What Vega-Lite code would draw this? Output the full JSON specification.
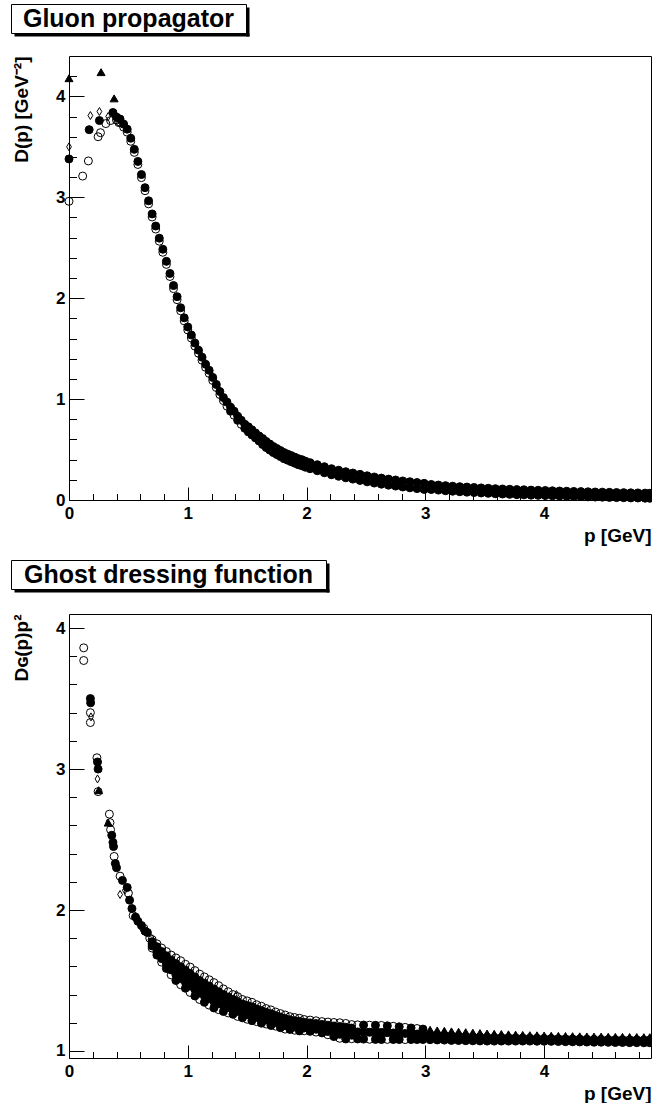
{
"$schema": "https://vega.github.io/schema/vega-lite/v6.json",
"padding": {"left": 10, "top": 3, "right": 0, "bottom": 0},
"background": "white",
"config": {
  "view": {"stroke": null},
  "font": "Liberation Sans",
  "axis": {"domainColor": "black", "domainWidth": 1, "tickColor": "black", "tickWidth": 1, "labelColor": "black", "labelFont": "Liberation Sans", "labelFontSize": 17, "labelFontWeight": "bold", "titleColor": "black", "titleFont": "Liberation Sans", "titleFontSize": 19, "titleFontWeight": "bold", "grid": false, "labelOverlap": false, "labelFlush": false}
},
"columns": 1, "spacing": 14,
"concat": [
 {"columns": 1, "spacing": 21, "concat": [
  {"width": 235, "height": 29, "view": {"stroke": "black", "strokeWidth": 1},
   "layer": [
    {"data": {"values": []}, "mark": {"type": "point", "opacity": 0},
     "encoding": {
      "x": {"field": "a", "type": "quantitative", "scale": {"domain": [0, 1], "range": [3, 238]}, "axis": {"orient": "bottom", "domainWidth": 3, "offset": 1.5, "ticks": false, "labels": false, "title": null}},
      "y": {"field": "b", "type": "quantitative", "scale": {"domain": [0, 1], "range": [32, 3]}, "axis": {"orient": "right", "domainWidth": 3, "offset": 1.5, "ticks": false, "labels": false, "title": null}}
     }},
    {"data": {"values": [{"t": "Gluon propagator"}]},
     "mark": {"type": "text", "font": "Liberation Sans", "fontSize": 25, "fontWeight": "bold", "color": "black"},
     "encoding": {"text": {"field": "t", "type": "nominal"}}}
   ]},
  {"width": 640, "height": 444,
   "resolve": {"axis": {"x": "independent", "y": "independent"}},
   "layer": [
    {"data": {"name": "g"},
     "mark": {"type": "point", "filled": true, "opacity": 1, "stroke": "black", "strokeWidth": 1},
     "encoding": {
      "x": {"field": "p", "type": "quantitative", "scale": {"domain": [0, 4.9], "range": [58, 640], "nice": false, "zero": false},
        "axis": {"orient": "bottom", "title": "p [GeV]", "values": [0,1,2,3,4], "format": "d", "tickSize": -13, "labelPadding": 18.5, "titleX": 640, "titleY": 41, "titleAlign": "right", "titleBaseline": "alphabetic", "titleAnchor": "end"}},
      "y": {"field": "y", "type": "quantitative", "scale": {"domain": [0, 4.4], "nice": false, "zero": false},
        "axis": {"orient": "left", "offset": -58, "title": "D(p) [GeV⁻²]", "values": [0,1,2,3,4], "format": "d", "tickSize": -15, "labelPadding": 19, "titleX": -42, "titleY": 0, "titleAngle": -90, "titleAlign": "right", "titleBaseline": "alphabetic"}},
      "shape": {"field": "s", "type": "nominal", "scale": {"domain": ["fc","oc","od","ft"], "range": ["circle","circle","M0,-1L0.6,0L0,1L-0.6,0Z","triangle-up"]}, "legend": null},
      "fill": {"field": "s", "type": "nominal", "scale": {"domain": ["fc","oc","od","ft"], "range": ["black","transparent","transparent","black"]}, "legend": null},
      "size": {"field": "s", "type": "ordinal", "scale": {"domain": ["fc","oc","od","ft"], "range": [64,64,100,100]}, "legend": null}
     }},
    {"data": {"values": []}, "mark": {"type": "point", "opacity": 0},
     "encoding": {
      "x": {"field": "p", "type": "quantitative", "scale": {"domain": [0, 4.9], "range": [58, 640], "nice": false, "zero": false},
        "axis": {"orient": "bottom", "values": [0.2,0.4,0.6,0.8,1.2,1.4,1.6,1.8,2.2,2.4,2.6,2.8,3.2,3.4,3.6,3.8,4.2,4.4,4.6,4.8], "tickSize": -6.5, "labels": false, "domain": false, "title": null}},
      "y": {"field": "y", "type": "quantitative", "scale": {"domain": [0, 4.4], "nice": false, "zero": false},
        "axis": {"orient": "left", "offset": -58, "values": [0.2,0.4,0.6,0.8,1.2,1.4,1.6,1.8,2.2,2.4,2.6,2.8,3.2,3.4,3.6,3.8,4.2], "tickSize": -7.5, "labels": false, "domain": false, "title": null}}
     }},
    {"data": {"values": []}, "mark": {"type": "point", "opacity": 0},
     "encoding": {
      "x": {"field": "p", "type": "quantitative", "scale": {"domain": [0, 4.9], "range": [58, 640], "nice": false, "zero": false},
        "axis": {"orient": "top", "ticks": false, "labels": false, "domain": true, "title": null}},
      "y": {"field": "y", "type": "quantitative", "scale": {"domain": [0, 4.4], "nice": false, "zero": false},
        "axis": {"orient": "right", "ticks": false, "labels": false, "domain": true, "title": null}}
     }}
   ]}
 ]},
 {"columns": 1, "spacing": 23, "concat": [
  {"width": 315, "height": 29, "view": {"stroke": "black", "strokeWidth": 1},
   "layer": [
    {"data": {"values": []}, "mark": {"type": "point", "opacity": 0},
     "encoding": {
      "x": {"field": "a", "type": "quantitative", "scale": {"domain": [0, 1], "range": [3, 318]}, "axis": {"orient": "bottom", "domainWidth": 3, "offset": 1.5, "ticks": false, "labels": false, "title": null}},
      "y": {"field": "b", "type": "quantitative", "scale": {"domain": [0, 1], "range": [32, 3]}, "axis": {"orient": "right", "domainWidth": 3, "offset": 1.5, "ticks": false, "labels": false, "title": null}}
     }},
    {"data": {"values": [{"t": "Ghost dressing function"}]},
     "mark": {"type": "text", "font": "Liberation Sans", "fontSize": 25, "fontWeight": "bold", "color": "black"},
     "encoding": {"text": {"field": "t", "type": "nominal"}}}
   ]},
  {"width": 640, "height": 444,
   "resolve": {"axis": {"x": "independent", "y": "independent"}},
   "layer": [
    {"data": {"name": "h"},
     "mark": {"type": "point", "filled": true, "opacity": 1, "stroke": "black", "strokeWidth": 1},
     "encoding": {
      "x": {"field": "p", "type": "quantitative", "scale": {"domain": [0, 4.9], "range": [58, 640], "nice": false, "zero": false},
        "axis": {"orient": "bottom", "title": "p [GeV]", "values": [0,1,2,3,4], "format": "d", "tickSize": -13, "labelPadding": 18.5, "titleX": 640, "titleY": 41, "titleAlign": "right", "titleBaseline": "alphabetic", "titleAnchor": "end"}},
      "y": {"field": "y", "type": "quantitative", "scale": {"domain": [0.95, 4.1], "nice": false, "zero": false},
        "axis": {"orient": "left", "offset": -58, "title": "Dɢ(p)p²", "values": [1,2,3,4], "format": "d", "tickSize": -15, "labelPadding": 19, "titleX": -42, "titleY": 0, "titleAngle": -90, "titleAlign": "right", "titleBaseline": "alphabetic"}},
      "shape": {"field": "s", "type": "nominal", "scale": {"domain": ["fc","oc","od","ft"], "range": ["circle","circle","M0,-1L0.6,0L0,1L-0.6,0Z","triangle-up"]}, "legend": null},
      "fill": {"field": "s", "type": "nominal", "scale": {"domain": ["fc","oc","od","ft"], "range": ["black","transparent","transparent","black"]}, "legend": null},
      "size": {"field": "s", "type": "ordinal", "scale": {"domain": ["fc","oc","od","ft"], "range": [85,85,110,100]}, "legend": null}
     }},
    {"data": {"values": []}, "mark": {"type": "point", "opacity": 0},
     "encoding": {
      "x": {"field": "p", "type": "quantitative", "scale": {"domain": [0, 4.9], "range": [58, 640], "nice": false, "zero": false},
        "axis": {"orient": "bottom", "values": [0.2,0.4,0.6,0.8,1.2,1.4,1.6,1.8,2.2,2.4,2.6,2.8,3.2,3.4,3.6,3.8,4.2,4.4,4.6,4.8], "tickSize": -6.5, "labels": false, "domain": false, "title": null}},
      "y": {"field": "y", "type": "quantitative", "scale": {"domain": [0.95, 4.1], "nice": false, "zero": false},
        "axis": {"orient": "left", "offset": -58, "values": [1.2,1.4,1.6,1.8,2.2,2.4,2.6,2.8,3.2,3.4,3.6,3.8], "tickSize": -7.5, "labels": false, "domain": false, "title": null}}
     }},
    {"data": {"values": []}, "mark": {"type": "point", "opacity": 0},
     "encoding": {
      "x": {"field": "p", "type": "quantitative", "scale": {"domain": [0, 4.9], "range": [58, 640], "nice": false, "zero": false},
        "axis": {"orient": "top", "ticks": false, "labels": false, "domain": true, "title": null}},
      "y": {"field": "y", "type": "quantitative", "scale": {"domain": [0.95, 4.1], "nice": false, "zero": false},
        "axis": {"orient": "right", "ticks": false, "labels": false, "domain": true, "title": null}}
     }}
   ]}
 ]}
],
"datasets": {
"g": [
{"p":0,"y":4.18,"s":"ft"},{"p":0.27,"y":4.24,"s":"ft"},{"p":0.38,"y":3.98,"s":"ft"},
{"p":0,"y":3.5,"s":"od"},{"p":0.18,"y":3.81,"s":"od"},{"p":0.256,"y":3.85,"s":"od"},{"p":0.33,"y":3.8,"s":"od"},
{"p":0,"y":3.38,"s":"fc"},{"p":0.17,"y":3.67,"s":"fc"},{"p":0.256,"y":3.76,"s":"fc"},{"p":0.37,"y":3.84,"s":"fc"},
{"p":0,"y":2.96,"s":"oc"},{"p":0.115,"y":3.21,"s":"oc"},{"p":0.163,"y":3.36,"s":"oc"},{"p":0.245,"y":3.6,"s":"oc"},{"p":0.265,"y":3.64,"s":"oc"},{"p":0.31,"y":3.73,"s":"oc"},{"p":0.35,"y":3.76,"s":"oc"},{"p":0.42,"y":3.74,"s":"oc"},
{"p":0.40,"y":3.795,"s":"fc"},{"p":0.40,"y":3.765,"s":"oc"},
{"p":0.43,"y":3.775,"s":"fc"},{"p":0.43,"y":3.745,"s":"oc"},
{"p":0.46,"y":3.725,"s":"fc"},{"p":0.46,"y":3.695,"s":"oc"},
{"p":0.49,"y":3.675,"s":"fc"},{"p":0.49,"y":3.645,"s":"oc"},
{"p":0.52,"y":3.585,"s":"fc"},{"p":0.52,"y":3.555,"s":"oc"},
{"p":0.55,"y":3.475,"s":"fc"},{"p":0.55,"y":3.445,"s":"oc"},
{"p":0.58,"y":3.355,"s":"fc"},{"p":0.58,"y":3.325,"s":"oc"},
{"p":0.61,"y":3.225,"s":"fc"},{"p":0.61,"y":3.195,"s":"oc"},
{"p":0.64,"y":3.095,"s":"fc"},{"p":0.64,"y":3.065,"s":"oc"},
{"p":0.67,"y":2.965,"s":"fc"},{"p":0.67,"y":2.935,"s":"oc"},
{"p":0.70,"y":2.835,"s":"fc"},{"p":0.70,"y":2.805,"s":"oc"},
{"p":0.73,"y":2.715,"s":"fc"},{"p":0.73,"y":2.685,"s":"oc"},
{"p":0.76,"y":2.595,"s":"fc"},{"p":0.76,"y":2.565,"s":"oc"},
{"p":0.79,"y":2.485,"s":"fc"},{"p":0.79,"y":2.455,"s":"oc"},
{"p":0.82,"y":2.365,"s":"fc"},{"p":0.82,"y":2.335,"s":"oc"},
{"p":0.85,"y":2.245,"s":"fc"},{"p":0.85,"y":2.215,"s":"oc"},
{"p":0.88,"y":2.125,"s":"fc"},{"p":0.88,"y":2.095,"s":"oc"},
{"p":0.91,"y":2.015,"s":"fc"},{"p":0.91,"y":1.985,"s":"oc"},
{"p":0.94,"y":1.905,"s":"fc"},{"p":0.94,"y":1.875,"s":"oc"},
{"p":0.97,"y":1.805,"s":"fc"},{"p":0.97,"y":1.775,"s":"oc"},
{"p":1.00,"y":1.715,"s":"fc"},{"p":1.00,"y":1.685,"s":"oc"},
{"p":1.03,"y":1.635,"s":"fc"},{"p":1.03,"y":1.605,"s":"oc"},
{"p":1.06,"y":1.555,"s":"fc"},{"p":1.06,"y":1.525,"s":"oc"},
{"p":1.09,"y":1.485,"s":"fc"},{"p":1.09,"y":1.455,"s":"oc"},
{"p":1.12,"y":1.415,"s":"fc"},{"p":1.12,"y":1.385,"s":"oc"},
{"p":1.15,"y":1.345,"s":"fc"},{"p":1.15,"y":1.315,"s":"oc"},
{"p":1.18,"y":1.285,"s":"fc"},{"p":1.18,"y":1.255,"s":"oc"},
{"p":1.21,"y":1.215,"s":"fc"},{"p":1.21,"y":1.185,"s":"oc"},
{"p":1.24,"y":1.145,"s":"fc"},{"p":1.24,"y":1.115,"s":"oc"},
{"p":1.27,"y":1.075,"s":"fc"},{"p":1.27,"y":1.045,"s":"oc"},
{"p":1.30,"y":1.015,"s":"fc"},{"p":1.30,"y":0.985,"s":"oc"},
{"p":1.33,"y":0.97,"s":"fc"},{"p":1.33,"y":0.93,"s":"oc"},
{"p":1.36,"y":0.92,"s":"fc"},{"p":1.36,"y":0.88,"s":"fc"},
{"p":1.39,"y":0.88,"s":"fc"},{"p":1.39,"y":0.84,"s":"oc"},
{"p":1.42,"y":0.83,"s":"fc"},{"p":1.42,"y":0.79,"s":"fc"},
{"p":1.45,"y":0.79,"s":"fc"},{"p":1.45,"y":0.75,"s":"oc"},
{"p":1.48,"y":0.75,"s":"fc"},{"p":1.48,"y":0.71,"s":"fc"},
{"p":1.51,"y":0.725,"s":"fc"},{"p":1.51,"y":0.675,"s":"fc"},
{"p":1.54,"y":0.695,"s":"fc"},{"p":1.54,"y":0.645,"s":"fc"},
{"p":1.57,"y":0.665,"s":"fc"},{"p":1.57,"y":0.615,"s":"fc"},
{"p":1.60,"y":0.635,"s":"fc"},{"p":1.60,"y":0.585,"s":"fc"},
{"p":1.63,"y":0.61,"s":"fc"},{"p":1.63,"y":0.55,"s":"fc"},
{"p":1.66,"y":0.58,"s":"fc"},{"p":1.66,"y":0.52,"s":"fc"},
{"p":1.69,"y":0.555,"s":"fc"},{"p":1.69,"y":0.495,"s":"fc"},
{"p":1.72,"y":0.53,"s":"fc"},{"p":1.72,"y":0.47,"s":"fc"},
{"p":1.75,"y":0.51,"s":"fc"},{"p":1.75,"y":0.45,"s":"fc"},
{"p":1.78,"y":0.49,"s":"fc"},{"p":1.78,"y":0.43,"s":"fc"},
{"p":1.81,"y":0.47,"s":"fc"},{"p":1.81,"y":0.41,"s":"fc"},
{"p":1.84,"y":0.455,"s":"fc"},{"p":1.84,"y":0.395,"s":"fc"},
{"p":1.87,"y":0.44,"s":"fc"},{"p":1.87,"y":0.38,"s":"fc"},
{"p":1.90,"y":0.425,"s":"fc"},{"p":1.90,"y":0.365,"s":"fc"},
{"p":1.93,"y":0.41,"s":"fc"},{"p":1.93,"y":0.35,"s":"fc"},
{"p":1.96,"y":0.40,"s":"fc"},{"p":1.96,"y":0.34,"s":"fc"},
{"p":1.99,"y":0.385,"s":"fc"},{"p":1.99,"y":0.325,"s":"fc"},
{"p":2.03,"y":0.37,"s":"fc"},{"p":2.03,"y":0.31,"s":"fc"},
{"p":2.09,"y":0.35,"s":"fc"},{"p":2.09,"y":0.29,"s":"fc"},
{"p":2.15,"y":0.33,"s":"fc"},{"p":2.15,"y":0.27,"s":"fc"},
{"p":2.21,"y":0.31,"s":"fc"},{"p":2.21,"y":0.25,"s":"fc"},
{"p":2.27,"y":0.295,"s":"fc"},{"p":2.27,"y":0.235,"s":"fc"},
{"p":2.33,"y":0.28,"s":"fc"},{"p":2.33,"y":0.22,"s":"fc"},
{"p":2.39,"y":0.267,"s":"fc"},{"p":2.39,"y":0.207,"s":"fc"},
{"p":2.45,"y":0.254,"s":"fc"},{"p":2.45,"y":0.194,"s":"fc"},
{"p":2.51,"y":0.24,"s":"fc"},{"p":2.51,"y":0.18,"s":"fc"},
{"p":2.57,"y":0.228,"s":"fc"},{"p":2.57,"y":0.168,"s":"fc"},
{"p":2.63,"y":0.217,"s":"fc"},{"p":2.63,"y":0.157,"s":"fc"},
{"p":2.69,"y":0.207,"s":"fc"},{"p":2.69,"y":0.147,"s":"fc"},
{"p":2.75,"y":0.198,"s":"fc"},{"p":2.75,"y":0.138,"s":"fc"},
{"p":2.81,"y":0.189,"s":"fc"},{"p":2.81,"y":0.129,"s":"fc"},
{"p":2.87,"y":0.181,"s":"fc"},{"p":2.87,"y":0.121,"s":"fc"},
{"p":2.93,"y":0.173,"s":"fc"},{"p":2.93,"y":0.113,"s":"fc"},
{"p":2.99,"y":0.165,"s":"fc"},{"p":2.99,"y":0.105,"s":"fc"},
{"p":3.05,"y":0.154,"s":"fc"},{"p":3.05,"y":0.104,"s":"fc"},
{"p":3.11,"y":0.148,"s":"fc"},{"p":3.11,"y":0.098,"s":"fc"},
{"p":3.17,"y":0.142,"s":"fc"},{"p":3.17,"y":0.092,"s":"fc"},
{"p":3.23,"y":0.137,"s":"fc"},{"p":3.23,"y":0.087,"s":"fc"},
{"p":3.29,"y":0.132,"s":"fc"},{"p":3.29,"y":0.082,"s":"fc"},
{"p":3.35,"y":0.128,"s":"fc"},{"p":3.35,"y":0.078,"s":"fc"},
{"p":3.41,"y":0.124,"s":"fc"},{"p":3.41,"y":0.074,"s":"fc"},
{"p":3.47,"y":0.12,"s":"fc"},{"p":3.47,"y":0.07,"s":"fc"},
{"p":3.53,"y":0.116,"s":"fc"},{"p":3.53,"y":0.066,"s":"fc"},
{"p":3.59,"y":0.112,"s":"fc"},{"p":3.59,"y":0.062,"s":"fc"},
{"p":3.65,"y":0.109,"s":"fc"},{"p":3.65,"y":0.059,"s":"fc"},
{"p":3.71,"y":0.106,"s":"fc"},{"p":3.71,"y":0.056,"s":"fc"},
{"p":3.77,"y":0.103,"s":"fc"},{"p":3.77,"y":0.053,"s":"fc"},
{"p":3.83,"y":0.101,"s":"fc"},{"p":3.83,"y":0.051,"s":"fc"},
{"p":3.89,"y":0.098,"s":"fc"},{"p":3.89,"y":0.048,"s":"fc"},
{"p":3.95,"y":0.096,"s":"fc"},{"p":3.95,"y":0.046,"s":"fc"},
{"p":4.01,"y":0.094,"s":"fc"},{"p":4.01,"y":0.044,"s":"fc"},
{"p":4.07,"y":0.091,"s":"fc"},{"p":4.07,"y":0.041,"s":"fc"},
{"p":4.13,"y":0.089,"s":"fc"},{"p":4.13,"y":0.039,"s":"fc"},
{"p":4.19,"y":0.087,"s":"fc"},{"p":4.19,"y":0.037,"s":"fc"},
{"p":4.25,"y":0.085,"s":"fc"},{"p":4.25,"y":0.035,"s":"fc"},
{"p":4.31,"y":0.083,"s":"fc"},{"p":4.31,"y":0.033,"s":"fc"},
{"p":4.37,"y":0.081,"s":"fc"},{"p":4.37,"y":0.031,"s":"fc"},
{"p":4.43,"y":0.079,"s":"fc"},{"p":4.43,"y":0.029,"s":"fc"},
{"p":4.49,"y":0.078,"s":"fc"},{"p":4.49,"y":0.028,"s":"fc"},
{"p":4.55,"y":0.076,"s":"fc"},{"p":4.55,"y":0.026,"s":"fc"},
{"p":4.61,"y":0.074,"s":"fc"},{"p":4.61,"y":0.024,"s":"fc"},
{"p":4.67,"y":0.073,"s":"fc"},{"p":4.67,"y":0.023,"s":"fc"},
{"p":4.73,"y":0.071,"s":"fc"},{"p":4.73,"y":0.021,"s":"fc"},
{"p":4.79,"y":0.07,"s":"fc"},{"p":4.79,"y":0.02,"s":"fc"},
{"p":4.85,"y":0.068,"s":"fc"},{"p":4.85,"y":0.018,"s":"fc"},
{"p":4.89,"y":0.067,"s":"fc"},{"p":4.89,"y":0.017,"s":"fc"}
],
"h": [
{"p":0.124,"y":3.86,"s":"oc"},{"p":0.124,"y":3.77,"s":"oc"},{"p":0.18,"y":3.5,"s":"fc"},{"p":0.182,"y":3.47,"s":"fc"},{"p":0.18,"y":3.4,"s":"oc"},{"p":0.18,"y":3.33,"s":"oc"},{"p":0.185,"y":3.37,"s":"od"},
{"p":0.235,"y":3.08,"s":"oc"},{"p":0.24,"y":3.05,"s":"fc"},{"p":0.245,"y":3.0,"s":"fc"},{"p":0.24,"y":2.93,"s":"od"},{"p":0.25,"y":2.85,"s":"ft"},{"p":0.245,"y":2.84,"s":"oc"},
{"p":0.33,"y":2.62,"s":"ft"},{"p":0.34,"y":2.68,"s":"oc"},{"p":0.345,"y":2.62,"s":"oc"},{"p":0.35,"y":2.57,"s":"oc"},{"p":0.36,"y":2.53,"s":"fc"},{"p":0.37,"y":2.48,"s":"fc"},{"p":0.375,"y":2.45,"s":"fc"},{"p":0.38,"y":2.38,"s":"oc"},{"p":0.39,"y":2.33,"s":"fc"},{"p":0.40,"y":2.30,"s":"fc"},
{"p":0.43,"y":2.24,"s":"oc"},{"p":0.45,"y":2.21,"s":"fc"},{"p":0.43,"y":2.11,"s":"od"},{"p":0.47,"y":2.14,"s":"od"},{"p":0.49,"y":2.16,"s":"fc"},{"p":0.50,"y":2.12,"s":"oc"},{"p":0.51,"y":2.07,"s":"fc"},{"p":0.53,"y":2.01,"s":"fc"},{"p":0.54,"y":1.96,"s":"oc"},{"p":0.56,"y":1.95,"s":"fc"},{"p":0.58,"y":1.92,"s":"fc"},{"p":0.61,"y":1.89,"s":"fc"},{"p":0.63,"y":1.87,"s":"oc"},{"p":0.64,"y":1.85,"s":"fc"},{"p":0.66,"y":1.84,"s":"fc"},{"p":0.68,"y":1.80,"s":"oc"},
{"p":0.70,"y":1.79,"s":"oc"},{"p":0.70,"y":1.775,"s":"fc"},{"p":0.70,"y":1.76,"s":"fc"},{"p":0.70,"y":1.745,"s":"fc"},{"p":0.70,"y":1.73,"s":"oc"},
{"p":0.74,"y":1.76,"s":"oc"},{"p":0.74,"y":1.74,"s":"fc"},{"p":0.74,"y":1.72,"s":"fc"},{"p":0.74,"y":1.70,"s":"fc"},{"p":0.74,"y":1.68,"s":"fc"},
{"p":0.78,"y":1.73,"s":"oc"},{"p":0.78,"y":1.705,"s":"fc"},{"p":0.78,"y":1.68,"s":"fc"},{"p":0.78,"y":1.655,"s":"fc"},{"p":0.78,"y":1.63,"s":"oc"},
{"p":0.82,"y":1.705,"s":"oc"},{"p":0.82,"y":1.675,"s":"fc"},{"p":0.82,"y":1.645,"s":"fc"},{"p":0.82,"y":1.615,"s":"fc"},{"p":0.82,"y":1.585,"s":"fc"},
{"p":0.86,"y":1.68,"s":"oc"},{"p":0.86,"y":1.645,"s":"fc"},{"p":0.86,"y":1.61,"s":"fc"},{"p":0.86,"y":1.575,"s":"fc"},{"p":0.86,"y":1.54,"s":"oc"},
{"p":0.90,"y":1.66,"s":"oc"},{"p":0.90,"y":1.62,"s":"fc"},{"p":0.90,"y":1.58,"s":"fc"},{"p":0.90,"y":1.54,"s":"fc"},{"p":0.90,"y":1.50,"s":"fc"},
{"p":0.94,"y":1.64,"s":"oc"},{"p":0.94,"y":1.598,"s":"fc"},{"p":0.94,"y":1.555,"s":"fc"},{"p":0.94,"y":1.513,"s":"fc"},{"p":0.94,"y":1.47,"s":"oc"},
{"p":0.98,"y":1.615,"s":"oc"},{"p":0.98,"y":1.573,"s":"fc"},{"p":0.98,"y":1.53,"s":"fc"},{"p":0.98,"y":1.488,"s":"fc"},{"p":0.98,"y":1.445,"s":"fc"},
{"p":1.02,"y":1.595,"s":"oc"},{"p":1.02,"y":1.55,"s":"fc"},{"p":1.02,"y":1.505,"s":"fc"},{"p":1.02,"y":1.46,"s":"fc"},{"p":1.02,"y":1.415,"s":"oc"},
{"p":1.06,"y":1.57,"s":"oc"},{"p":1.06,"y":1.525,"s":"fc"},{"p":1.06,"y":1.48,"s":"fc"},{"p":1.06,"y":1.435,"s":"fc"},{"p":1.06,"y":1.39,"s":"fc"},
{"p":1.10,"y":1.545,"s":"oc"},{"p":1.10,"y":1.50,"s":"fc"},{"p":1.10,"y":1.455,"s":"fc"},{"p":1.10,"y":1.41,"s":"fc"},{"p":1.10,"y":1.365,"s":"oc"},
{"p":1.14,"y":1.525,"s":"oc"},{"p":1.14,"y":1.48,"s":"fc"},{"p":1.14,"y":1.435,"s":"fc"},{"p":1.14,"y":1.39,"s":"fc"},{"p":1.14,"y":1.345,"s":"fc"},
{"p":1.18,"y":1.505,"s":"oc"},{"p":1.18,"y":1.46,"s":"fc"},{"p":1.18,"y":1.415,"s":"fc"},{"p":1.18,"y":1.37,"s":"fc"},{"p":1.18,"y":1.325,"s":"oc"},
{"p":1.22,"y":1.485,"s":"oc"},{"p":1.22,"y":1.44,"s":"fc"},{"p":1.22,"y":1.395,"s":"fc"},{"p":1.22,"y":1.35,"s":"fc"},{"p":1.22,"y":1.305,"s":"fc"},
{"p":1.26,"y":1.463,"s":"oc"},{"p":1.26,"y":1.42,"s":"fc"},{"p":1.26,"y":1.378,"s":"fc"},{"p":1.26,"y":1.335,"s":"fc"},{"p":1.26,"y":1.293,"s":"oc"},
{"p":1.30,"y":1.44,"s":"oc"},{"p":1.30,"y":1.40,"s":"fc"},{"p":1.30,"y":1.36,"s":"fc"},{"p":1.30,"y":1.32,"s":"fc"},{"p":1.30,"y":1.28,"s":"fc"},
{"p":1.34,"y":1.42,"s":"oc"},{"p":1.34,"y":1.383,"s":"fc"},{"p":1.34,"y":1.345,"s":"fc"},{"p":1.34,"y":1.308,"s":"fc"},{"p":1.34,"y":1.27,"s":"oc"},
{"p":1.38,"y":1.40,"s":"oc"},{"p":1.38,"y":1.365,"s":"fc"},{"p":1.38,"y":1.33,"s":"fc"},{"p":1.38,"y":1.295,"s":"fc"},{"p":1.38,"y":1.26,"s":"fc"},
{"p":1.41,"y":1.40,"s":"od"},
{"p":1.42,"y":1.385,"s":"oc"},{"p":1.42,"y":1.35,"s":"fc"},{"p":1.42,"y":1.315,"s":"fc"},{"p":1.42,"y":1.28,"s":"fc"},{"p":1.42,"y":1.245,"s":"oc"},
{"p":1.46,"y":1.365,"s":"oc"},{"p":1.46,"y":1.333,"s":"fc"},{"p":1.46,"y":1.30,"s":"fc"},{"p":1.46,"y":1.268,"s":"fc"},{"p":1.46,"y":1.235,"s":"fc"},
{"p":1.50,"y":1.355,"s":"oc"},{"p":1.50,"y":1.323,"s":"fc"},{"p":1.50,"y":1.29,"s":"fc"},{"p":1.50,"y":1.258,"s":"fc"},{"p":1.50,"y":1.225,"s":"oc"},
{"p":1.54,"y":1.345,"s":"oc"},{"p":1.54,"y":1.313,"s":"fc"},{"p":1.54,"y":1.28,"s":"fc"},{"p":1.54,"y":1.248,"s":"fc"},{"p":1.54,"y":1.215,"s":"fc"},
{"p":1.58,"y":1.328,"s":"oc"},{"p":1.58,"y":1.298,"s":"fc"},{"p":1.58,"y":1.268,"s":"fc"},{"p":1.58,"y":1.238,"s":"fc"},{"p":1.58,"y":1.208,"s":"oc"},
{"p":1.62,"y":1.317,"s":"oc"},{"p":1.62,"y":1.287,"s":"fc"},{"p":1.62,"y":1.257,"s":"fc"},{"p":1.62,"y":1.227,"s":"fc"},{"p":1.62,"y":1.197,"s":"fc"},
{"p":1.66,"y":1.301,"s":"oc"},{"p":1.66,"y":1.274,"s":"fc"},{"p":1.66,"y":1.246,"s":"fc"},{"p":1.66,"y":1.219,"s":"fc"},{"p":1.66,"y":1.191,"s":"oc"},
{"p":1.70,"y":1.291,"s":"oc"},{"p":1.70,"y":1.264,"s":"fc"},{"p":1.70,"y":1.236,"s":"fc"},{"p":1.70,"y":1.209,"s":"fc"},{"p":1.70,"y":1.181,"s":"fc"},
{"p":1.74,"y":1.276,"s":"oc"},{"p":1.74,"y":1.251,"s":"fc"},{"p":1.74,"y":1.226,"s":"fc"},{"p":1.74,"y":1.201,"s":"fc"},{"p":1.74,"y":1.176,"s":"oc"},
{"p":1.78,"y":1.265,"s":"oc"},{"p":1.78,"y":1.24,"s":"fc"},{"p":1.78,"y":1.215,"s":"fc"},{"p":1.78,"y":1.19,"s":"fc"},{"p":1.78,"y":1.165,"s":"fc"},
{"p":1.82,"y":1.255,"s":"oc"},{"p":1.82,"y":1.23,"s":"fc"},{"p":1.82,"y":1.205,"s":"fc"},{"p":1.82,"y":1.18,"s":"fc"},{"p":1.82,"y":1.155,"s":"oc"},
{"p":1.86,"y":1.243,"s":"oc"},{"p":1.86,"y":1.221,"s":"fc"},{"p":1.86,"y":1.198,"s":"fc"},{"p":1.86,"y":1.176,"s":"fc"},{"p":1.86,"y":1.153,"s":"fc"},
{"p":1.90,"y":1.237,"s":"oc"},{"p":1.90,"y":1.215,"s":"fc"},{"p":1.90,"y":1.192,"s":"fc"},{"p":1.90,"y":1.17,"s":"fc"},{"p":1.90,"y":1.147,"s":"oc"},
{"p":1.94,"y":1.232,"s":"oc"},{"p":1.94,"y":1.21,"s":"fc"},{"p":1.94,"y":1.187,"s":"fc"},{"p":1.94,"y":1.165,"s":"fc"},{"p":1.94,"y":1.142,"s":"fc"},
{"p":1.98,"y":1.223,"s":"oc"},{"p":1.98,"y":1.203,"s":"fc"},{"p":1.98,"y":1.183,"s":"fc"},{"p":1.98,"y":1.163,"s":"fc"},{"p":1.98,"y":1.143,"s":"oc"},
{"p":2.03,"y":1.219,"s":"oc"},{"p":2.03,"y":1.199,"s":"fc"},{"p":2.03,"y":1.179,"s":"fc"},{"p":2.03,"y":1.159,"s":"fc"},{"p":2.03,"y":1.139,"s":"fc"},
{"p":2.08,"y":1.214,"s":"oc"},{"p":2.08,"y":1.194,"s":"fc"},{"p":2.08,"y":1.174,"s":"fc"},{"p":2.08,"y":1.154,"s":"fc"},{"p":2.08,"y":1.134,"s":"oc"},
{"p":2.13,"y":1.208,"s":"oc"},{"p":2.13,"y":1.188,"s":"fc"},{"p":2.13,"y":1.168,"s":"fc"},{"p":2.13,"y":1.148,"s":"fc"},{"p":2.13,"y":1.128,"s":"fc"},
{"p":2.18,"y":1.205,"s":"oc"},{"p":2.18,"y":1.183,"s":"fc"},{"p":2.18,"y":1.16,"s":"fc"},{"p":2.18,"y":1.138,"s":"fc"},{"p":2.18,"y":1.115,"s":"oc"},
{"p":2.23,"y":1.202,"s":"oc"},{"p":2.23,"y":1.177,"s":"fc"},{"p":2.23,"y":1.152,"s":"fc"},{"p":2.23,"y":1.127,"s":"fc"},{"p":2.23,"y":1.102,"s":"fc"},
{"p":2.28,"y":1.20,"s":"oc"},{"p":2.28,"y":1.173,"s":"fc"},{"p":2.28,"y":1.145,"s":"fc"},{"p":2.28,"y":1.118,"s":"fc"},{"p":2.28,"y":1.09,"s":"oc"},
{"p":2.33,"y":1.195,"s":"oc"},{"p":2.33,"y":1.168,"s":"fc"},{"p":2.33,"y":1.14,"s":"fc"},{"p":2.33,"y":1.113,"s":"fc"},{"p":2.33,"y":1.085,"s":"fc"},
{"p":2.38,"y":1.187,"s":"oc"},{"p":2.38,"y":1.162,"s":"fc"},{"p":2.38,"y":1.137,"s":"fc"},{"p":2.38,"y":1.112,"s":"fc"},{"p":2.38,"y":1.087,"s":"oc"},
{"p":2.43,"y":1.185,"s":"oc"},{"p":2.43,"y":1.135,"s":"fc"},{"p":2.43,"y":1.085,"s":"fc"},
{"p":2.48,"y":1.184,"s":"fc"},{"p":2.48,"y":1.134,"s":"fc"},{"p":2.48,"y":1.084,"s":"fc"},
{"p":2.53,"y":1.183,"s":"oc"},{"p":2.53,"y":1.133,"s":"fc"},{"p":2.53,"y":1.083,"s":"oc"},
{"p":2.58,"y":1.182,"s":"fc"},{"p":2.58,"y":1.132,"s":"fc"},{"p":2.58,"y":1.082,"s":"fc"},
{"p":2.63,"y":1.181,"s":"oc"},{"p":2.63,"y":1.131,"s":"fc"},{"p":2.63,"y":1.081,"s":"fc"},
{"p":2.68,"y":1.178,"s":"fc"},{"p":2.68,"y":1.13,"s":"fc"},{"p":2.68,"y":1.082,"s":"oc"},
{"p":2.73,"y":1.175,"s":"oc"},{"p":2.73,"y":1.128,"s":"fc"},{"p":2.73,"y":1.081,"s":"fc"},
{"p":2.78,"y":1.171,"s":"fc"},{"p":2.78,"y":1.126,"s":"fc"},{"p":2.78,"y":1.081,"s":"fc"},
{"p":2.83,"y":1.167,"s":"oc"},{"p":2.83,"y":1.124,"s":"fc"},{"p":2.83,"y":1.081,"s":"oc"},
{"p":2.88,"y":1.163,"s":"fc"},{"p":2.88,"y":1.122,"s":"fc"},{"p":2.88,"y":1.081,"s":"fc"},
{"p":2.93,"y":1.159,"s":"oc"},{"p":2.93,"y":1.12,"s":"fc"},{"p":2.93,"y":1.081,"s":"fc"},
{"p":2.98,"y":1.155,"s":"fc"},{"p":2.98,"y":1.118,"s":"fc"},{"p":2.98,"y":1.081,"s":"fc"},
{"p":3.04,"y":1.15,"s":"ft"},{"p":3.04,"y":1.115,"s":"fc"},{"p":3.04,"y":1.08,"s":"fc"},
{"p":3.10,"y":1.146,"s":"ft"},{"p":3.10,"y":1.112,"s":"fc"},{"p":3.10,"y":1.078,"s":"fc"},
{"p":3.16,"y":1.143,"s":"ft"},{"p":3.16,"y":1.11,"s":"fc"},{"p":3.16,"y":1.077,"s":"fc"},
{"p":3.22,"y":1.139,"s":"ft"},{"p":3.22,"y":1.107,"s":"fc"},{"p":3.22,"y":1.075,"s":"fc"},
{"p":3.28,"y":1.136,"s":"ft"},{"p":3.28,"y":1.105,"s":"fc"},{"p":3.28,"y":1.074,"s":"fc"},
{"p":3.34,"y":1.133,"s":"ft"},{"p":3.34,"y":1.103,"s":"fc"},{"p":3.34,"y":1.073,"s":"fc"},
{"p":3.40,"y":1.13,"s":"ft"},{"p":3.40,"y":1.101,"s":"fc"},{"p":3.40,"y":1.072,"s":"fc"},
{"p":3.46,"y":1.127,"s":"ft"},{"p":3.46,"y":1.099,"s":"fc"},{"p":3.46,"y":1.071,"s":"fc"},
{"p":3.52,"y":1.124,"s":"ft"},{"p":3.52,"y":1.097,"s":"fc"},{"p":3.52,"y":1.07,"s":"fc"},
{"p":3.58,"y":1.122,"s":"ft"},{"p":3.58,"y":1.096,"s":"fc"},{"p":3.58,"y":1.07,"s":"fc"},
{"p":3.64,"y":1.12,"s":"ft"},{"p":3.64,"y":1.095,"s":"fc"},{"p":3.64,"y":1.07,"s":"fc"},
{"p":3.70,"y":1.118,"s":"ft"},{"p":3.70,"y":1.094,"s":"fc"},{"p":3.70,"y":1.07,"s":"fc"},
{"p":3.76,"y":1.116,"s":"ft"},{"p":3.76,"y":1.093,"s":"fc"},{"p":3.76,"y":1.07,"s":"fc"},
{"p":3.82,"y":1.114,"s":"ft"},{"p":3.82,"y":1.092,"s":"fc"},{"p":3.82,"y":1.07,"s":"fc"},
{"p":3.88,"y":1.112,"s":"ft"},{"p":3.88,"y":1.091,"s":"fc"},{"p":3.88,"y":1.07,"s":"fc"},
{"p":3.94,"y":1.111,"s":"ft"},{"p":3.94,"y":1.09,"s":"fc"},{"p":3.94,"y":1.069,"s":"fc"},
{"p":4.00,"y":1.109,"s":"ft"},{"p":4.00,"y":1.089,"s":"fc"},{"p":4.00,"y":1.069,"s":"fc"},
{"p":4.06,"y":1.108,"s":"ft"},{"p":4.06,"y":1.088,"s":"fc"},{"p":4.06,"y":1.068,"s":"fc"},
{"p":4.12,"y":1.107,"s":"ft"},{"p":4.12,"y":1.087,"s":"fc"},{"p":4.12,"y":1.067,"s":"fc"},
{"p":4.18,"y":1.106,"s":"ft"},{"p":4.18,"y":1.086,"s":"fc"},{"p":4.18,"y":1.066,"s":"fc"},
{"p":4.24,"y":1.105,"s":"ft"},{"p":4.24,"y":1.085,"s":"fc"},{"p":4.24,"y":1.065,"s":"fc"},
{"p":4.30,"y":1.104,"s":"ft"},{"p":4.30,"y":1.084,"s":"fc"},{"p":4.30,"y":1.064,"s":"fc"},
{"p":4.36,"y":1.103,"s":"ft"},{"p":4.36,"y":1.083,"s":"fc"},{"p":4.36,"y":1.063,"s":"fc"},
{"p":4.42,"y":1.102,"s":"ft"},{"p":4.42,"y":1.082,"s":"fc"},{"p":4.42,"y":1.062,"s":"fc"},
{"p":4.48,"y":1.102,"s":"ft"},{"p":4.48,"y":1.082,"s":"fc"},{"p":4.48,"y":1.062,"s":"fc"},
{"p":4.54,"y":1.101,"s":"ft"},{"p":4.54,"y":1.081,"s":"fc"},{"p":4.54,"y":1.061,"s":"fc"},
{"p":4.60,"y":1.10,"s":"ft"},{"p":4.60,"y":1.08,"s":"fc"},{"p":4.60,"y":1.06,"s":"fc"},
{"p":4.66,"y":1.10,"s":"ft"},{"p":4.66,"y":1.08,"s":"fc"},{"p":4.66,"y":1.06,"s":"fc"},
{"p":4.72,"y":1.099,"s":"ft"},{"p":4.72,"y":1.079,"s":"fc"},{"p":4.72,"y":1.059,"s":"fc"},
{"p":4.78,"y":1.099,"s":"ft"},{"p":4.78,"y":1.079,"s":"fc"},{"p":4.78,"y":1.059,"s":"fc"},
{"p":4.84,"y":1.098,"s":"ft"},{"p":4.84,"y":1.078,"s":"fc"},{"p":4.84,"y":1.058,"s":"fc"},
{"p":4.89,"y":1.098,"s":"ft"},{"p":4.89,"y":1.078,"s":"fc"},{"p":4.89,"y":1.058,"s":"fc"}
]
}
}
